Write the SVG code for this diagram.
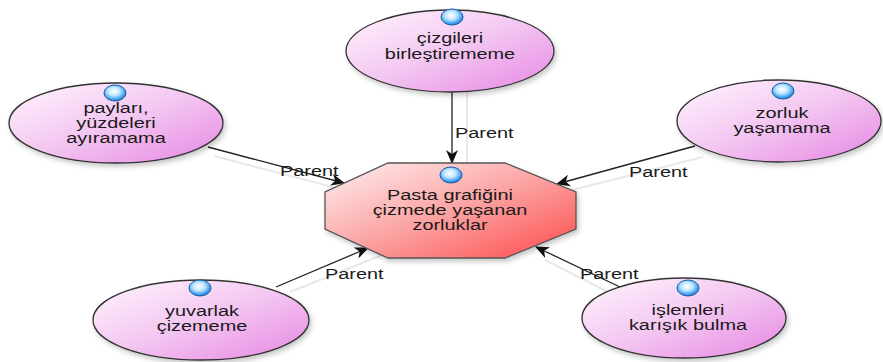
<svg xmlns="http://www.w3.org/2000/svg" width="883" height="362" viewBox="0 0 883 362">
<defs>
  <linearGradient id="gEll" x1="0" y1="0" x2="1" y2="1">
    <stop offset="0" stop-color="#fff6fe"/>
    <stop offset="0.5" stop-color="#f3c6f1"/>
    <stop offset="1" stop-color="#e686e3"/>
  </linearGradient>
  <linearGradient id="gOct" x1="0" y1="0" x2="1" y2="1">
    <stop offset="0" stop-color="#fff0f0"/>
    <stop offset="0.5" stop-color="#fba3a3"/>
    <stop offset="1" stop-color="#ff4a4a"/>
  </linearGradient>
  <radialGradient id="gDot" cx="0.45" cy="0.4" r="0.6">
    <stop offset="0" stop-color="#ffffff"/>
    <stop offset="0.45" stop-color="#bfe6ff"/>
    <stop offset="0.85" stop-color="#3a9cf0"/>
    <stop offset="1" stop-color="#1f6fc4"/>
  </radialGradient>
  <filter id="sh" x="-20%" y="-20%" width="140%" height="150%">
    <feDropShadow dx="2" dy="3" stdDeviation="2.5" flood-color="#000" flood-opacity="0.22"/>
  </filter>
  <marker id="arr" markerWidth="14" markerHeight="12" refX="13" refY="6" orient="auto" markerUnits="userSpaceOnUse">
    <path d="M0,0 L14,6 L0,12 L4,6 Z" fill="#111"/>
  </marker>
</defs>
<style>
  .ell { fill: url(#gEll); stroke: #333; stroke-width: 1.3; filter: url(#sh); }
  .oct { fill: url(#gOct); stroke: #555; stroke-width: 1.3; filter: url(#sh); }
  .dot { fill: url(#gDot); stroke: #1b5ea8; stroke-width: 1; }
  .lbl { font-family: "Liberation Sans", Arial, sans-serif; font-size: 14px; fill: #1a1a1a; text-anchor: middle; }
  .con { stroke: #222; stroke-width: 1.3; fill: none; marker-end: url(#arr); }
  .ghost { stroke: #e8e8e8; stroke-width: 2; fill: none; }
</style>

<g id="connectors">
  <line class="ghost" x1="467" y1="92" x2="467" y2="163"/>
  <line class="ghost" x1="214" y1="156" x2="348" y2="191"/>
  <line class="ghost" x1="703" y1="157" x2="572" y2="190"/>
  <line class="ghost" x1="290" y1="292" x2="382" y2="255"/>
  <line class="ghost" x1="610" y1="293" x2="545" y2="260"/>
  <line class="con" x1="452" y1="91" x2="452" y2="163"/>
  <line class="con" x1="208" y1="147" x2="344" y2="183"/>
  <line class="con" x1="695" y1="146" x2="557" y2="184"/>
  <line class="con" x1="276" y1="287" x2="368" y2="248"/>
  <line class="con" x1="620" y1="287" x2="536" y2="247"/>
  <g transform="translate(455,0) scale(1.42,1)"><text class="lbl" style="text-anchor:start" x="0" y="138">Parent</text></g>
  <g transform="translate(280,0) scale(1.42,1)"><text class="lbl" style="text-anchor:start" x="0" y="176">Parent</text></g>
  <g transform="translate(629,0) scale(1.42,1)"><text class="lbl" style="text-anchor:start" x="0" y="177">Parent</text></g>
  <g transform="translate(325,0) scale(1.42,1)"><text class="lbl" style="text-anchor:start" x="0" y="279">Parent</text></g>
  <g transform="translate(580,0) scale(1.42,1)"><text class="lbl" style="text-anchor:start" x="0" y="279">Parent</text></g>
</g>

<g id="center">
  <polygon class="oct" points="388,163 505,163 576,192 576,229 505,258 388,258 325,229 325,192"/>
  <ellipse class="dot" cx="451" cy="175" rx="11" ry="8"/>
  <g transform="translate(450,0) scale(1.42,1)">
    <text class="lbl" x="0" y="200">Pasta grafiğini</text>
    <text class="lbl" x="0" y="215">çizmede yaşanan</text>
    <text class="lbl" x="0" y="230">zorluklar</text>
  </g>
</g>

<g id="node-top">
  <ellipse class="ell" cx="450" cy="51" rx="104" ry="41"/>
  <ellipse class="dot" cx="452" cy="17" rx="11" ry="8"/>
  <g transform="translate(450,0) scale(1.42,1)">
    <text class="lbl" x="0" y="43">çizgileri</text>
    <text class="lbl" x="0" y="59">birleştirememe</text>
  </g>
</g>

<g id="node-left">
  <ellipse class="ell" cx="116" cy="123" rx="107" ry="40"/>
  <ellipse class="dot" cx="115" cy="93" rx="11" ry="8"/>
  <g transform="translate(116,0) scale(1.42,1)">
    <text class="lbl" x="0" y="113">payları,</text>
    <text class="lbl" x="0" y="128">yüzdeleri</text>
    <text class="lbl" x="0" y="143">ayıramama</text>
  </g>
</g>

<g id="node-right">
  <ellipse class="ell" cx="779" cy="121" rx="102" ry="41"/>
  <ellipse class="dot" cx="783" cy="91" rx="11" ry="8"/>
  <g transform="translate(782,0) scale(1.42,1)">
    <text class="lbl" x="0" y="118">zorluk</text>
    <text class="lbl" x="0" y="133">yaşamama</text>
  </g>
</g>

<g id="node-bottom-left">
  <ellipse class="ell" cx="201" cy="320" rx="108" ry="40"/>
  <ellipse class="dot" cx="200" cy="288" rx="11" ry="8"/>
  <g transform="translate(202,0) scale(1.42,1)">
    <text class="lbl" x="0" y="316">yuvarlak</text>
    <text class="lbl" x="0" y="331">çizememe</text>
  </g>
</g>

<g id="node-bottom-right">
  <ellipse class="ell" cx="684" cy="318" rx="102" ry="40"/>
  <ellipse class="dot" cx="688" cy="288" rx="11" ry="8"/>
  <g transform="translate(688,0) scale(1.42,1)">
    <text class="lbl" x="0" y="315">işlemleri</text>
    <text class="lbl" x="0" y="330">karışık bulma</text>
  </g>
</g>
</svg>
